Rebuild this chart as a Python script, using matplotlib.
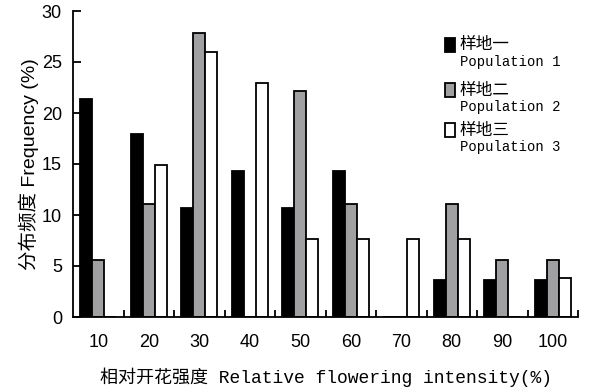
import numpy as np
import matplotlib
matplotlib.use("Agg")
import matplotlib.pyplot as plt
from matplotlib.patches import Rectangle

classes = [10, 20, 30, 40, 50, 60, 70, 80, 90, 100]  # relative flowering intensity (%)
pop1 = [21.4, 17.9, 10.7, 14.3, 10.7, 14.3, 0, 3.6, 3.6, 3.6]
pop2 = [5.6, 11.1, 27.8, 0, 22.2, 11.1, 0, 11.1, 5.6, 5.6]
pop3 = [0, 14.9, 26.0, 22.9, 7.6, 7.6, 7.6, 7.6, 0, 3.8]
names_cn = ["样地一", "样地二", "样地三"]
names_en = ["Population 1", "Population 2", "Population 3"]
colors = ["black", "#a0a0a2", "white"]

mono_cn = ["Liberation Mono", "Noto Sans CJK SC"]
sans_cn = ["Liberation Sans", "Noto Sans CJK SC"]

fig = plt.figure(figsize=(5.89, 3.89), dpi=100)
ax = fig.add_axes([73/589, 1-317/389, 505/589, 306/389])

x = np.array(classes)
w = 2.4
for off, vals, c in zip([-w, 0, w], [pop1, pop2, pop3], colors):
    ax.bar(x + off, vals, width=w, color=c, edgecolor="black", linewidth=1.3)

ax.set_xlim(5, 105)
ax.set_ylim(0, 30)
ax.set_yticks(range(0, 31, 5))
ax.set_xticks(classes)
ax.set_xticks(np.arange(15, 106, 10), minor=True)
ax.tick_params(axis="x", which="major", length=0, pad=12, labelsize=13)
ax.tick_params(axis="x", which="minor", direction="in", length=5, width=1.3)
ax.tick_params(axis="y", direction="in", length=6, width=1.3, pad=8, labelsize=13)
for lab in ax.get_xticklabels() + ax.get_yticklabels():
    lab.set_family("Liberation Sans")
for s in ["top", "right"]:
    ax.spines[s].set_visible(False)
for s in ["left", "bottom"]:
    ax.spines[s].set_linewidth(1.3)

ax.set_xlabel("相对开花强度 Relative flowering intensity(%)", family=mono_cn,
              fontsize=13, labelpad=12)
ax.set_ylabel("分布频度 Frequency (%)", family=sans_cn, fontsize=14, labelpad=2)

# legend drawn by hand, square next to the chinese line
leg_y = [45, 90, 130]
for y, c, cn, en in zip(leg_y, colors, names_cn, names_en):
    fig.patches.append(Rectangle((445/589, 1-(y+7)/389), 10/589, 14/389,
                                 transform=fig.transFigure, facecolor=c,
                                 edgecolor="black", linewidth=1.3))
    fig.text(459/589, 1-y/389, cn, family="Noto Sans CJK SC", fontsize=12,
             va="center", ha="left")
    fig.text(460/589, 1-(y+17)/389, en, family="Liberation Mono", fontsize=10,
             va="center", ha="left")

fig.savefig("out.png", dpi=100)
